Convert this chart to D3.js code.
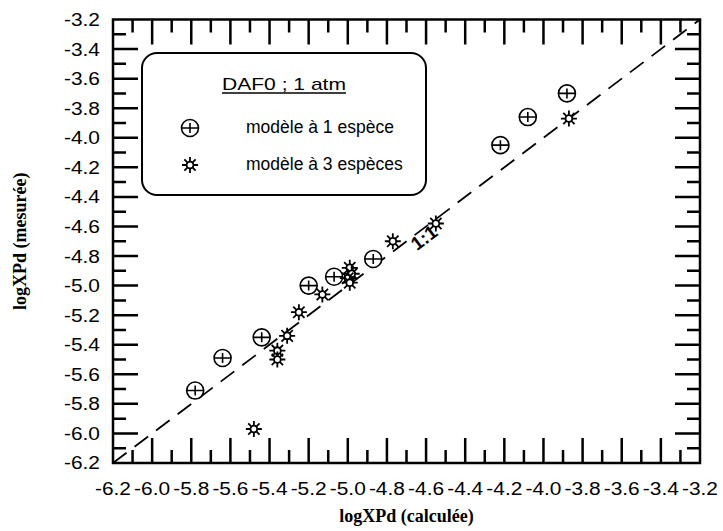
<!DOCTYPE html>
<html><head><meta charset="utf-8">
<script src="https://cdn.jsdelivr.net/npm/d3@7"></script>
<style>body{margin:0;background:#fff}svg{display:block}</style>
</head><body>
<svg id="c" width="723" height="531"></svg>
<script>
// ---- data ----
const xTickLabels = [-6.2,-6.0,-5.8,-5.6,-5.4,-5.2,-5.0,-4.8,-4.6,-4.4,-4.2,-4.0,-3.8,-3.6,-3.4,-3.2];
const yTickLabels = [-6.2,-6.0,-5.8,-5.6,-5.4,-5.2,-5.0,-4.8,-4.6,-4.4,-4.2,-4.0,-3.8,-3.6,-3.4,-3.2];
// modele a 1 espece
const oneCalc = [-5.78,-5.64,-5.44,-5.20,-5.07,-4.87,-4.22,-4.08,-3.88];
const oneMeas = [-5.71,-5.49,-5.35,-5.00,-4.94,-4.82,-4.05,-3.86,-3.70];
// modele a 3 especes
const threeCalc = [-5.48,-5.36,-5.36,-5.31,-5.25,-5.13,-4.99,-4.98,-5.00,-4.99,-4.77,-4.55,-3.87];
const threeMeas = [-5.97,-5.44,-5.50,-5.34,-5.18,-5.06,-4.88,-4.92,-4.95,-4.98,-4.70,-4.58,-3.87];
const identityLine = [-6.2,-3.2];
const legendTitle = "DAF0 ; 1 atm";
const legendLabels = ["mod\u00e8le \u00e0 1 esp\u00e8ce","mod\u00e8le \u00e0 3 esp\u00e8ces"];
const xTitle = "logXPd (calcul\u00e9e)";
const yTitle = "logXPd (mesur\u00e9e)";

// ---- chart ----
const svg = d3.select("#c");
const L=113,R=700,T=19.5,B=463;
const x = d3.scaleLinear([-6.2,-3.2],[L,R]);
const y = d3.scaleLinear([-6.2,-3.2],[B,T]);
const fmt = d => d.toFixed(1);
const minorX = xTickLabels.slice(1).map((t,i)=>(t+xTickLabels[i])/2);
const minorY = yTickLabels.slice(1).map((t,i)=>(t+yTickLabels[i])/2);
const MAJ=25, MIN=13;
const FONT="Liberation Sans, Arial, sans-serif";
const SERIF="Liberation Serif, Times New Roman, serif";

// frame + ticks in one path
let fd = `M${L},${T}H${R}V${B}H${L}Z`;
xTickLabels.forEach(v=>{ fd+=`M${x(v)},${B}V${B-MAJ}M${x(v)},${T}V${T+MAJ}`; });
minorX.forEach(v=>{ fd+=`M${x(v)},${B}V${B-MIN}M${x(v)},${T}V${T+MIN}`; });
yTickLabels.forEach(v=>{ fd+=`M${L},${y(v)}H${L+MAJ}M${R},${y(v)}H${R-MAJ}`; });
minorY.forEach(v=>{ fd+=`M${L},${y(v)}H${L+MIN}M${R},${y(v)}H${R-MIN}`; });
svg.append("path").attr("d",fd).attr("fill","none").attr("stroke","#000").attr("stroke-width",2.5);

// tick labels
svg.append("g").selectAll("text").data(xTickLabels).join("text")
  .attr("x",d=>x(d)).attr("y",495).attr("text-anchor","middle")
  .attr("font-family",FONT).attr("font-size",18)
  .attr("textLength",36).attr("lengthAdjust","spacingAndGlyphs").text(fmt);
svg.append("g").selectAll("text").data(yTickLabels).join("text")
  .attr("x",100).attr("y",d=>y(d)).attr("dy","0.36em").attr("text-anchor","end")
  .attr("font-family",FONT).attr("font-size",18)
  .attr("textLength",36).attr("lengthAdjust","spacingAndGlyphs").text(fmt);

// 1:1 line
svg.append("line")
  .attr("x1",x(identityLine[0])).attr("y1",y(identityLine[0]))
  .attr("x2",x(identityLine[1])).attr("y2",y(identityLine[1]))
  .attr("stroke","#000").attr("stroke-width",1.8).attr("stroke-dasharray","17,10");
const ang = Math.atan2(y(-3.2)-y(-6.2), x(-3.2)-x(-6.2))*180/Math.PI;
svg.append("text").attr("transform",`translate(428,243) rotate(${ang})`)
  .attr("text-anchor","middle").attr("font-family",FONT).attr("font-weight","bold")
  .attr("font-size",19).text("1:1");

// symbols
function circlePlus(g, cx, cy){
  const s=g.append("g").attr("transform",`translate(${cx},${cy})`)
    .attr("fill","none").attr("stroke","#000").attr("stroke-width",1.6);
  s.append("circle").attr("r",8.5).attr("fill","#fff");
  s.append("path").attr("d","M-8.5,0H8.5M0,-5V5");
}
function star(g, cx, cy){
  const s=g.append("g").attr("transform",`translate(${cx},${cy})`)
    .attr("fill","none").attr("stroke","#000").attr("stroke-width",1.8);
  s.append("circle").attr("r",3.4).attr("fill","#fff");
  s.append("path").attr("d", d3.range(8).map(k=>{
    const a=k*Math.PI/4;
    return `M${3.4*Math.cos(a)},${3.4*Math.sin(a)}L${8*Math.cos(a)},${8*Math.sin(a)}`;
  }).join(""));
}
const pts = svg.append("g");
oneCalc.forEach((v,i)=>circlePlus(pts, x(v), y(oneMeas[i])));
threeCalc.forEach((v,i)=>star(pts, x(v), y(threeMeas[i])));

// legend
const lg = svg.append("g");
lg.append("rect").attr("x",142).attr("y",53).attr("width",284).attr("height",142)
  .attr("rx",15).attr("fill","#fff").attr("stroke","#000").attr("stroke-width",2);
lg.append("text").attr("x",284).attr("y",90).attr("text-anchor","middle")
  .attr("font-family",FONT).attr("font-size",17)
  .attr("textLength",124).attr("lengthAdjust","spacingAndGlyphs").text(legendTitle);
lg.append("path").attr("d","M222,93H346").attr("stroke","#000").attr("stroke-width",1.5);
circlePlus(lg,190,128);
star(lg,190,165);
legendLabels.forEach((t,i)=>{
  lg.append("text").attr("x",246).attr("y",133+i*37).attr("font-family",FONT)
    .attr("font-size",17.5).text(t);
});

// axis titles
svg.append("text").attr("x",(L+R)/2).attr("y",522).attr("text-anchor","middle")
  .attr("font-family",SERIF).attr("font-weight","bold")
  .attr("font-size",18).text(xTitle);
svg.append("text").attr("transform",`translate(26,${(T+B)/2}) rotate(-90)`).attr("text-anchor","middle")
  .attr("font-family",SERIF).attr("font-weight","bold")
  .attr("font-size",18).text(yTitle);
</script>
</body></html>
